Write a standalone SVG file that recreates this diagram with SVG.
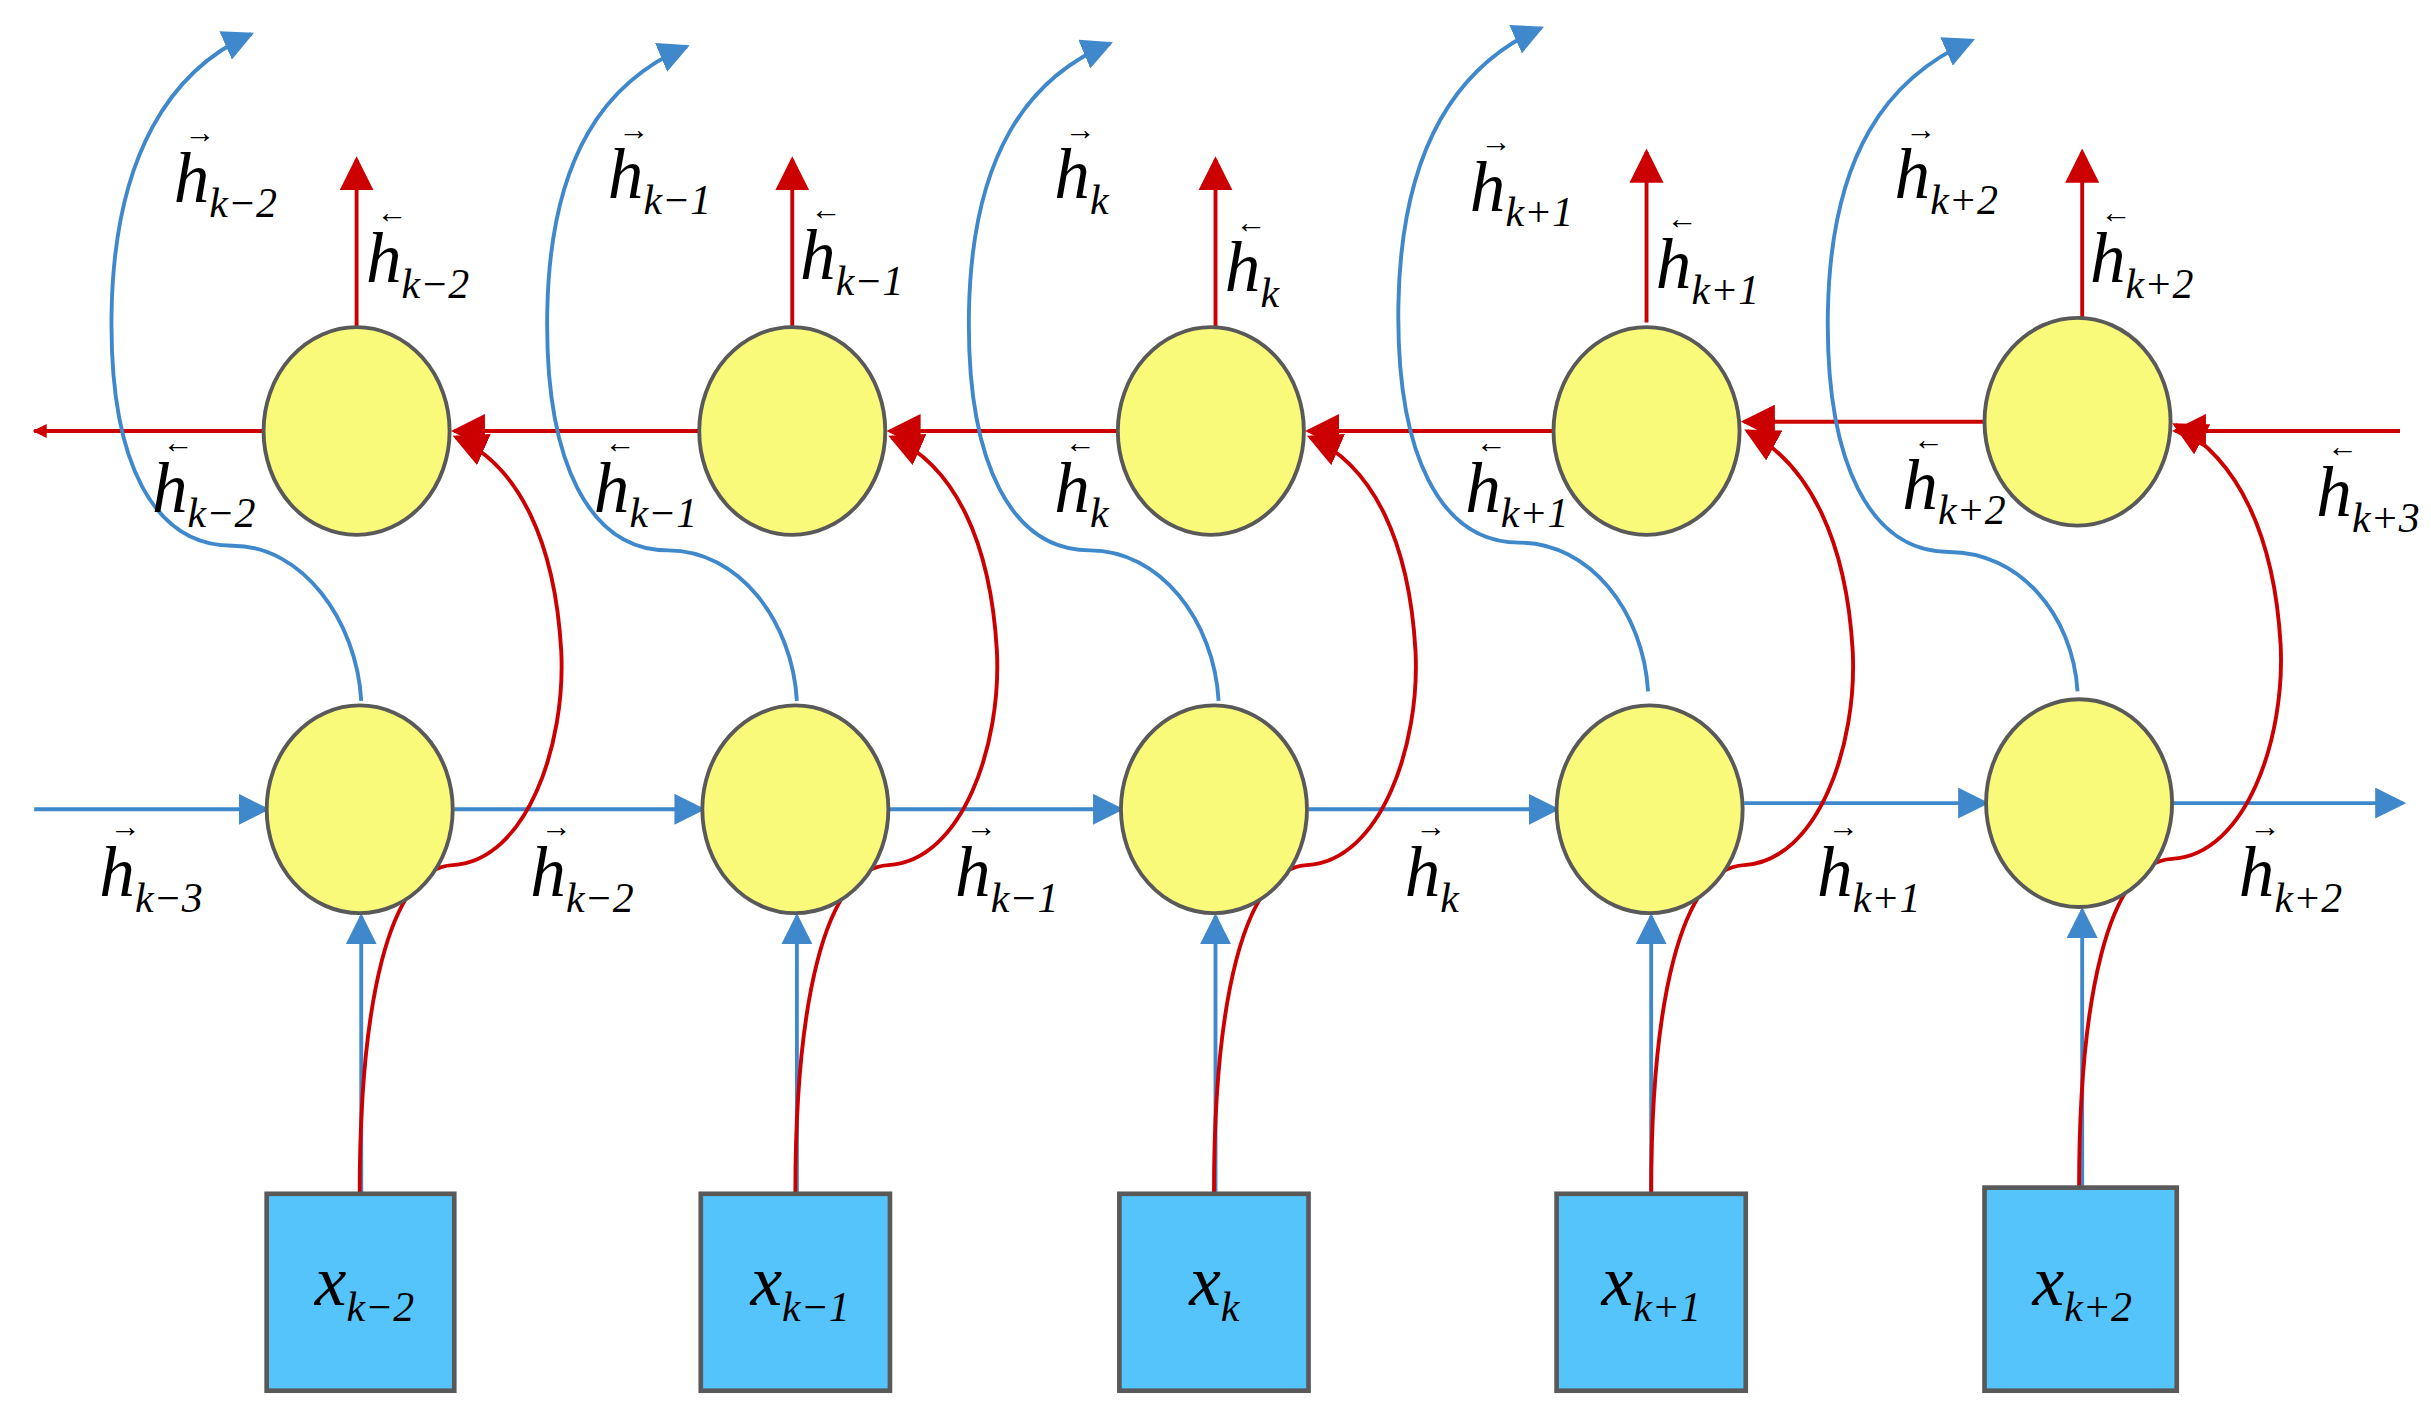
<svg xmlns="http://www.w3.org/2000/svg" width="2431" height="1421" viewBox="0 0 2431 1421">
<style>
.c{fill:#f9f97a;stroke:#595959;stroke-width:2.5}
.b{fill:#55c4fa;stroke:#595959;stroke-width:3}
.r{stroke:#cc0000;stroke-width:2.5;fill:none}
.bl{stroke:#3f88cc;stroke-width:2.5;fill:none}
.h{font-style:italic;font-size:46px;fill:#000}
.s{font-size:27px}
.a{font-size:20px;font-style:normal}
</style>
<defs>
<marker id="ra" viewBox="0 0 10 10" refX="9" refY="5" markerWidth="9" markerHeight="9" markerUnits="userSpaceOnUse" orient="auto"><path d="M0,0L10,5L0,10z" fill="#cc0000"/></marker>
<marker id="rb" viewBox="0 0 10 10" refX="9" refY="5" markerWidth="22" markerHeight="22" markerUnits="userSpaceOnUse" orient="auto"><path d="M0,0L10,5L0,10z" fill="#cc0000"/></marker>
<marker id="ba" viewBox="0 0 10 10" refX="9" refY="5" markerWidth="20" markerHeight="20" markerUnits="userSpaceOnUse" orient="auto"><path d="M0,0L10,5L0,10z" fill="#3f88cc"/></marker>
</defs>
<g transform="scale(1.5504)" font-family="'Liberation Serif', 'Times New Roman', serif">
<g id="connectors">
<path class="r" d="M1548 278H1403" marker-end="url(#rb)"/>
<path class="r" d="M1280 272H1125" marker-end="url(#rb)"/>
<path class="r" d="M1002 278H844" marker-end="url(#rb)"/>
<path class="r" d="M721 278H574" marker-end="url(#rb)"/>
<path class="r" d="M451 278H293" marker-end="url(#rb)"/>
<path class="r" d="M170 278H22" marker-end="url(#ra)"/>
<path class="bl" d="M22 522H172" marker-end="url(#ba)"/>
<path class="bl" d="M293 522H453" marker-end="url(#ba)"/>
<path class="bl" d="M574 522H723" marker-end="url(#ba)"/>
<path class="bl" d="M844 522H1004" marker-end="url(#ba)"/>
<path class="bl" d="M1125 518H1281" marker-end="url(#ba)"/>
<path class="bl" d="M1402 518H1550" marker-end="url(#ba)"/>
<g id="ups">
<path class="r" d="M230 211V103" marker-end="url(#rb)"/>
<path class="r" d="M511 211V103" marker-end="url(#rb)"/>
<path class="r" d="M784 211V103" marker-end="url(#rb)"/>
<path class="r" d="M1062 208V98" marker-end="url(#rb)"/>
<path class="r" d="M1343 205V98" marker-end="url(#rb)"/>
<path class="bl" d="M233 770V591" marker-end="url(#ba)"/>
<path class="bl" d="M514 770V591" marker-end="url(#ba)"/>
<path class="bl" d="M784 770V591" marker-end="url(#ba)"/>
<path class="bl" d="M1065 770V591" marker-end="url(#ba)"/>
<path class="bl" d="M1343 766V587" marker-end="url(#ba)"/>
</g>
<g id="red-curves">
<path class="r" d="M232 770C232 650 250 560 292 558C340 555 365 480 362 420C358 350 335 300 294 282" marker-end="url(#rb)"/>
<path class="r" d="M513 770C513 650 531 560 573 558C621 555 646 480 643 420C639 350 616 300 575 282" marker-end="url(#rb)"/>
<path class="r" d="M783 770C783 650 801 560 843 558C891 555 916 480 913 420C909 350 886 300 845 282" marker-end="url(#rb)"/>
<path class="r" d="M1065 770C1065 650 1083 560 1125 558C1173 555 1198 480 1195 420C1191 350 1168 300 1127 278" marker-end="url(#rb)"/>
<path class="r" d="M1341 766C1341 646 1359 556 1401 554C1449 551 1474 476 1471 416C1467 346 1444 296 1403 274" marker-end="url(#rb)"/>
</g>
<g id="blue-curves">
<path class="bl" d="M233 452C230 400 195 352 150 352C100 352 70 300 72 200C74 100 110 45 162 22" marker-end="url(#ba)"/>
<path class="bl" d="M514 452C511 400 476 355 431 355C381 355 351 300 353 200C355 100 391 52 443 30" marker-end="url(#ba)"/>
<path class="bl" d="M786 452C783 400 748 355 703 355C653 355 623 300 625 200C627 100 663 50 716 28" marker-end="url(#ba)"/>
<path class="bl" d="M1063 446C1060 394 1025 350 980 350C930 350 900 295 902 195C904 95 940 42 994 18" marker-end="url(#ba)"/>
<path class="bl" d="M1340 446C1337 396 1302 356 1257 356C1207 356 1177 300 1179 200C1181 100 1217 50 1272 26" marker-end="url(#ba)"/>
</g>
</g>
<g id="top-nodes">
<ellipse class="c" cx="230" cy="278" rx="60" ry="67"/>
<ellipse class="c" cx="511" cy="278" rx="60" ry="67"/>
<ellipse class="c" cx="781" cy="278" rx="60" ry="67"/>
<ellipse class="c" cx="1062" cy="278" rx="60" ry="67"/>
<ellipse class="c" cx="1340" cy="272" rx="60" ry="67"/>
</g>
<g id="bottom-nodes">
<ellipse class="c" cx="232" cy="522" rx="60" ry="67"/>
<ellipse class="c" cx="513" cy="522" rx="60" ry="67"/>
<ellipse class="c" cx="783" cy="522" rx="60" ry="67"/>
<ellipse class="c" cx="1064" cy="522" rx="60" ry="67"/>
<ellipse class="c" cx="1341" cy="518" rx="60" ry="67"/>
</g>
<g id="inputs">
<g id="x1"><rect class="b" x="172" y="770" width="121" height="127"/><text class="h" x="203" y="842">x<tspan class="s" dy="10">k−2</tspan></text></g>
<g id="x2"><rect class="b" x="452" y="770" width="122" height="127"/><text class="h" x="484" y="842">x<tspan class="s" dy="10">k−1</tspan></text></g>
<g id="x3"><rect class="b" x="722" y="770" width="122" height="127"/><text class="h" x="767" y="842">x<tspan class="s" dy="10">k</tspan></text></g>
<g id="x4"><rect class="b" x="1004" y="770" width="122" height="127"/><text class="h" x="1033" y="842">x<tspan class="s" dy="10">k+1</tspan></text></g>
<g id="x5"><rect class="b" x="1280" y="766" width="124" height="131"/><text class="h" x="1311" y="842">x<tspan class="s" dy="10">k+2</tspan></text></g>
</g>
<g id="labels">
<text class="h" x="112" y="130">h<tspan class="s" dy="10">k−2</tspan><tspan class="a" x="119" y="92">→</tspan></text>
<text class="h" x="392" y="128">h<tspan class="s" dy="10">k−1</tspan><tspan class="a" x="399" y="90">→</tspan></text>
<text class="h" x="680" y="128">h<tspan class="s" dy="10">k</tspan><tspan class="a" x="687" y="90">→</tspan></text>
<text class="h" x="948" y="136">h<tspan class="s" dy="10">k+1</tspan><tspan class="a" x="955" y="98">→</tspan></text>
<text class="h" x="1222" y="128">h<tspan class="s" dy="10">k+2</tspan><tspan class="a" x="1229" y="90">→</tspan></text>
<text class="h" x="236" y="182">h<tspan class="s" dy="10">k−2</tspan><tspan class="a" x="243" y="144">←</tspan></text>
<text class="h" x="516" y="180">h<tspan class="s" dy="10">k−1</tspan><tspan class="a" x="523" y="142">←</tspan></text>
<text class="h" x="790" y="188">h<tspan class="s" dy="10">k</tspan><tspan class="a" x="797" y="150">←</tspan></text>
<text class="h" x="1068" y="186">h<tspan class="s" dy="10">k+1</tspan><tspan class="a" x="1075" y="148">←</tspan></text>
<text class="h" x="1348" y="182">h<tspan class="s" dy="10">k+2</tspan><tspan class="a" x="1355" y="144">←</tspan></text>
<text class="h" x="98" y="330">h<tspan class="s" dy="10">k−2</tspan><tspan class="a" x="105" y="292">←</tspan></text>
<text class="h" x="383" y="330">h<tspan class="s" dy="10">k−1</tspan><tspan class="a" x="390" y="292">←</tspan></text>
<text class="h" x="680" y="330">h<tspan class="s" dy="10">k</tspan><tspan class="a" x="687" y="292">←</tspan></text>
<text class="h" x="945" y="330">h<tspan class="s" dy="10">k+1</tspan><tspan class="a" x="952" y="292">←</tspan></text>
<text class="h" x="1227" y="328">h<tspan class="s" dy="10">k+2</tspan><tspan class="a" x="1234" y="290">←</tspan></text>
<text class="h" x="1494" y="333">h<tspan class="s" dy="10">k+3</tspan><tspan class="a" x="1501" y="295">←</tspan></text>
<text class="h" x="64" y="578">h<tspan class="s" dy="10">k−3</tspan><tspan class="a" x="71" y="540">→</tspan></text>
<text class="h" x="342" y="578">h<tspan class="s" dy="10">k−2</tspan><tspan class="a" x="349" y="540">→</tspan></text>
<text class="h" x="616" y="578">h<tspan class="s" dy="10">k−1</tspan><tspan class="a" x="623" y="540">→</tspan></text>
<text class="h" x="906" y="578">h<tspan class="s" dy="10">k</tspan><tspan class="a" x="913" y="540">→</tspan></text>
<text class="h" x="1172" y="578">h<tspan class="s" dy="10">k+1</tspan><tspan class="a" x="1179" y="540">→</tspan></text>
<text class="h" x="1444" y="578">h<tspan class="s" dy="10">k+2</tspan><tspan class="a" x="1451" y="540">→</tspan></text>
</g>
</g>
</svg>
